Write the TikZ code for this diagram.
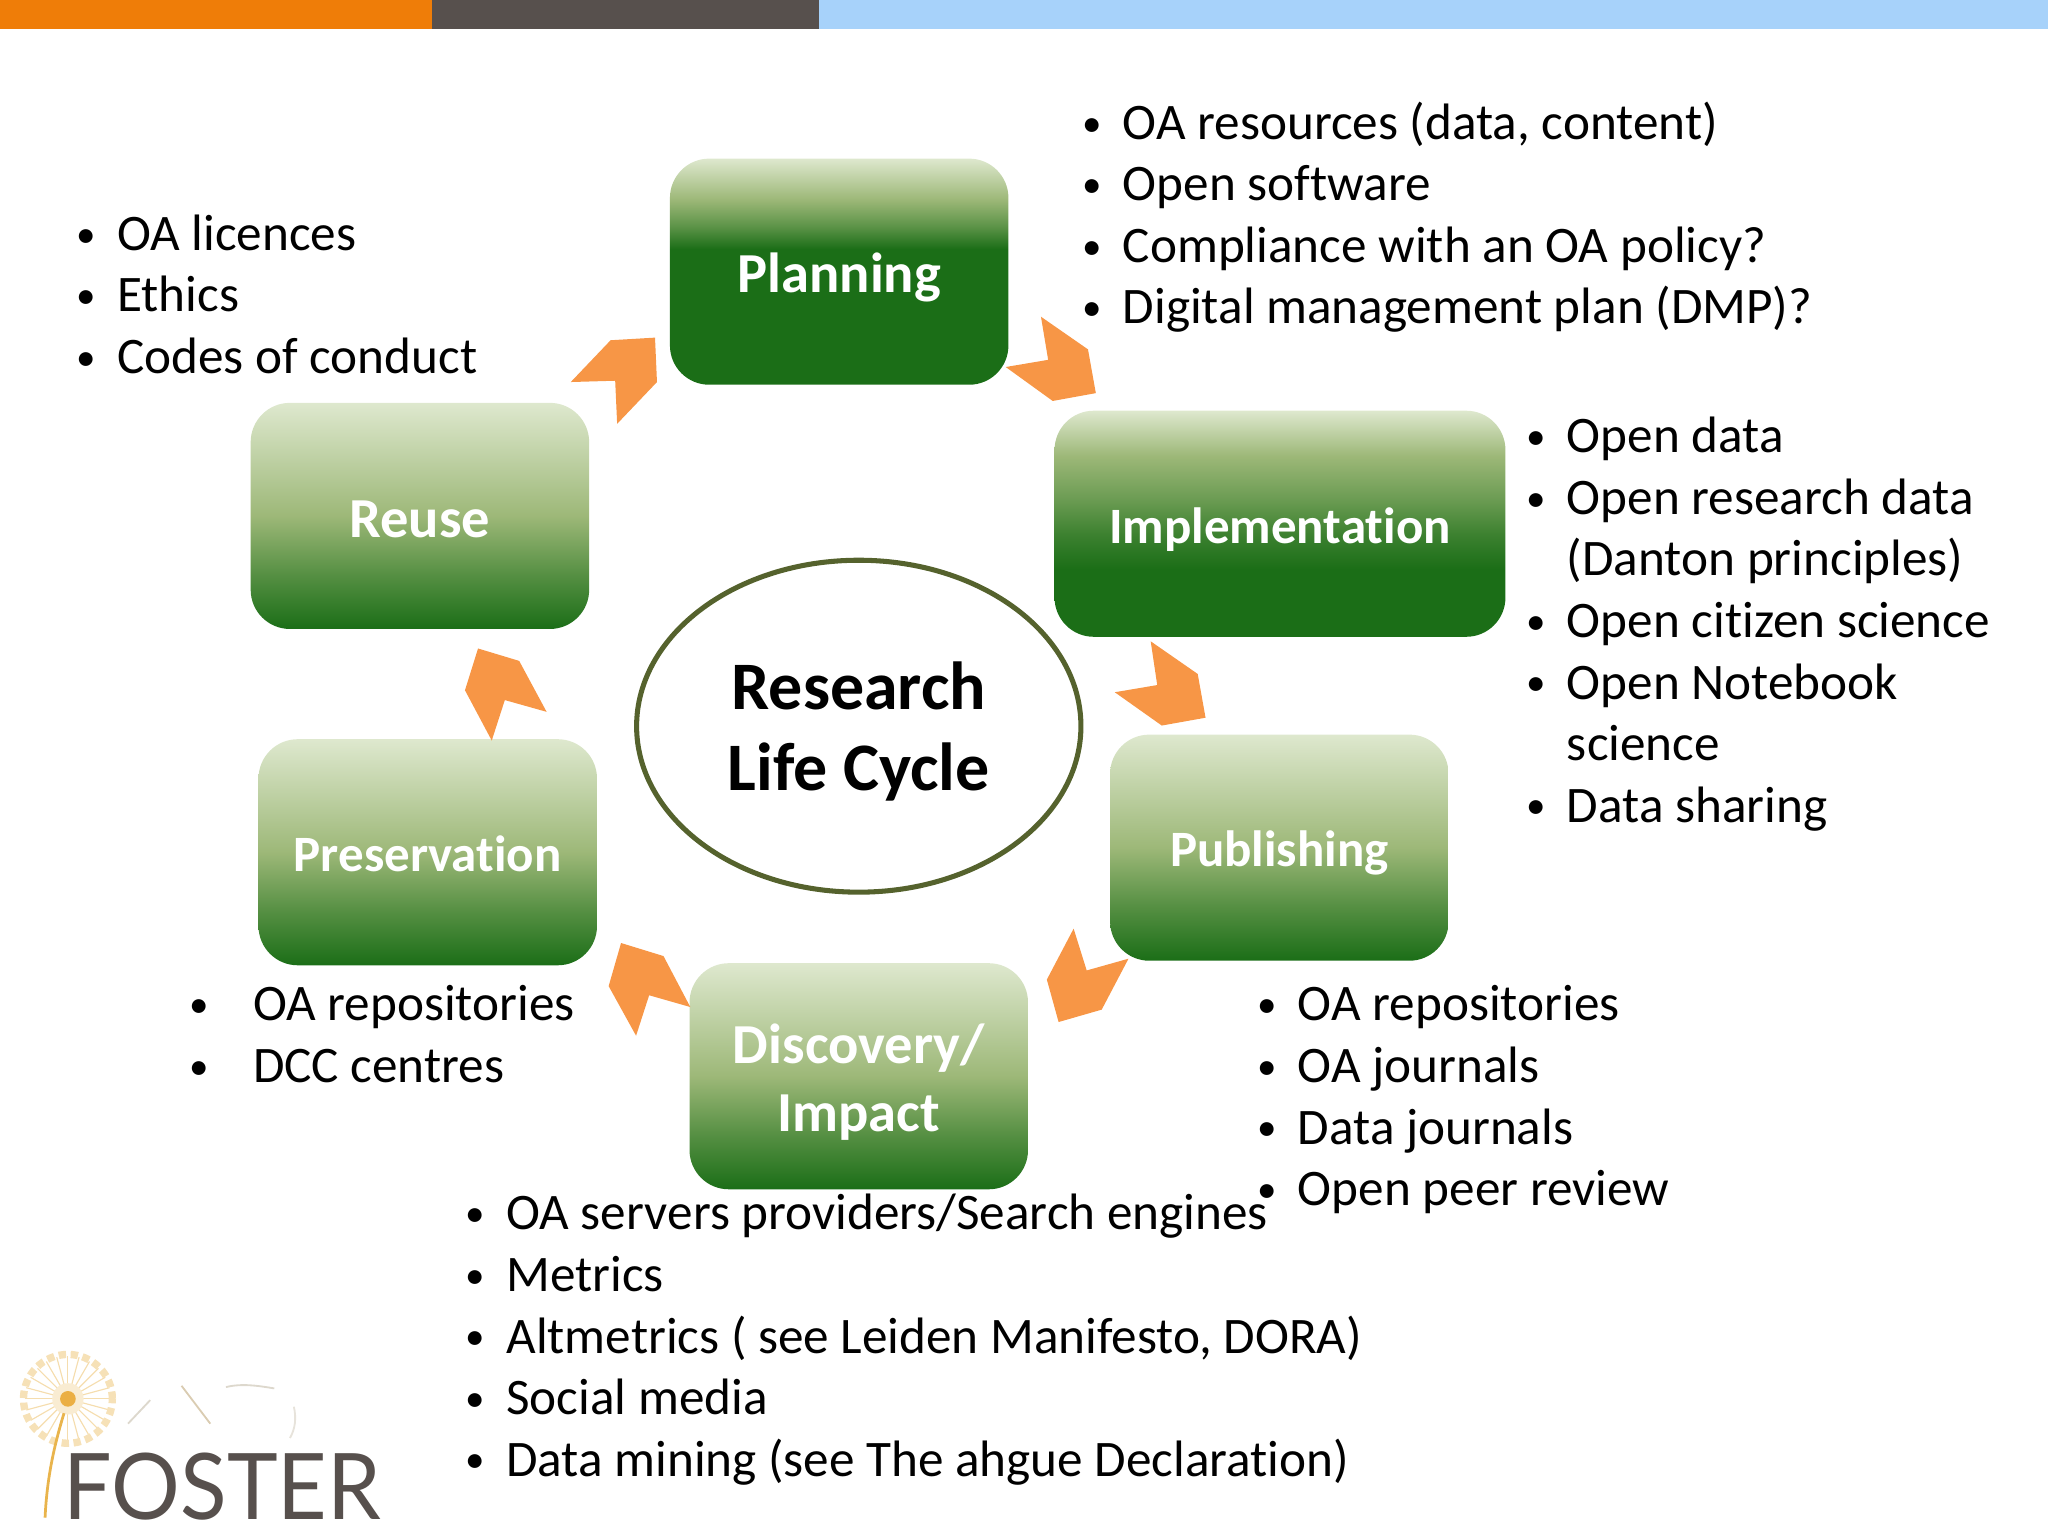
\documentclass[tikz,border=0pt]{standalone}
\usepackage{fontspec}
\setmainfont{Carlito}[Ligatures={TeX,CommonOff}]
\setsansfont{Lato}
\usetikzlibrary{shapes.geometric, positioning}
\definecolor{barorange}{HTML}{EF7D08}
\definecolor{bargrey}{HTML}{57504D}
\definecolor{barblue}{HTML}{A7D2FA}
\definecolor{chevorange}{HTML}{F79646}
\definecolor{ringgreen}{HTML}{55622D}
\definecolor{leaftop}{HTML}{DEE8CE}
\definecolor{leafmid}{HTML}{9DB878}
\definecolor{leafend}{HTML}{1B6E17}
\definecolor{seedgold}{HTML}{E9B44C}
\pgfdeclareverticalshading{fadeleaf}{100bp}{color(0bp)=(leafend); color(25bp)=(leafend); color(37bp)=(leafmid!45!leafend); color(50bp)=(leafmid); color(75bp)=(leaftop); color(100bp)=(leaftop)}
\pgfdeclareverticalshading{fadedark}{100bp}{color(0bp)=(leafend); color(55bp)=(leafend); color(60bp)=(leafmid!50!leafend); color(66bp)=(leafmid); color(75bp)=(leaftop); color(100bp)=(leaftop)}
\pgfdeclareverticalshading{fadeimpl}{100bp}{color(0bp)=(leafend); color(40bp)=(leafend); color(47.5bp)=(leafmid!25!leafend); color(55bp)=(leafmid!60!leafend); color(65bp)=(leafmid); color(75bp)=(leaftop); color(100bp)=(leaftop)}
\newcommand{\bl}[1][0.31cm]{\strut\makebox[#1][l]{\fontsize{8.5}{8.5}\selectfont\raisebox{0.7pt}{\textbullet}}}
\newcommand{\hg}{\strut\hspace*{0.31cm}}
\begin{document}
\begin{tikzpicture}[x=0.01cm, y=-0.01cm,
    stagebox/.style={rectangle, rounded corners=0.3cm, minimum width=2.59cm, minimum height=1.73cm, inner sep=0pt, align=center, text=white, text height=9.2pt, text depth=0pt, font=\fontsize{12.3}{14.8}\selectfont\bfseries, shading=fadeleaf},
    smallbox/.style={stagebox, text height=8.4pt, font=\fontsize{11.1}{14}\selectfont\bfseries},
    note/.style={anchor=north west, inner sep=0pt, align=left, font=\fontsize{11.15}{13.4}\selectfont},
    chev/.style={fill=chevorange}]
    \useasboundingbox (0,0) rectangle (1568,1176);
    \fill[barorange] (0,0) rectangle (331,22);
    \fill[bargrey] (331,0) rectangle (627,22);
    \fill[barblue] (627,0) rectangle (1568,22);

    \node[stagebox, shading=fadedark] (planning) at (642.5,208) {Planning};
    \node[smallbox, shading=fadeimpl, minimum width=3.45cm] (implementation) at (980,401) {Implementation};
    \node[smallbox] (publishing) at (979.5,649) {Publishing};
    \node[stagebox, text height=24pt] (discovery) at (657.5,824) {Discovery/\\Impact};
    \node[smallbox] (preservation) at (327.5,652.5) {Preservation};
    \node[stagebox] (reuse) at (321.5,395) {Reuse};
    \node[ellipse, draw=ringgreen, line width=1.1pt, minimum width=3.4cm, minimum height=2.54cm, inner sep=0pt, align=center, text depth=0pt, font=\fontsize{14.8}{17.8}\selectfont\bfseries] (cycle) at (657.5,556) {Research\\Life Cycle};

    \fill[chev] (797,242.5) -- (833,267.5) -- (839,301) -- (806,307) -- (770,281) -- (802.5,275.5) -- cycle;
    \fill[chev] (881,491) -- (917,516) -- (923,549.5) -- (889.5,555.5) -- (853.5,530) -- (886,524.5) -- cycle;
    \fill[chev] (822,711) -- (832,743) -- (864,734) -- (843.5,773) -- (810.5,782.5) -- (801.5,750) -- cycle;
    \fill[chev] (528.5,771) -- (497,762) -- (487,793) -- (466,755) -- (475.5,722) -- (508,732) -- cycle;
    \fill[chev] (376.5,567) -- (386.5,536) -- (418.5,545) -- (397.5,506) -- (366,496.5) -- (356,528.5) -- cycle;
    \fill[chev] (501.5,258.5) -- (503,292.5) -- (472.5,324.5) -- (471,291.5) -- (437,292.5) -- (467.5,260.5) -- cycle;

    \node[note] (planningnotes) at (828,73) {\bl OA resources (data, content)\\\bl Open software\\\bl Compliance with an OA policy?\\\bl Digital management plan (DMP)?};
    \node[note] (reusenotes) at (58,158) {\bl OA licences\\\bl Ethics\\\bl Codes of conduct};
    \node[note] (implementationnotes) at (1168,313) {\bl Open data\\\bl Open research data\\\hg (Danton principles)\\\bl Open citizen science\\\bl Open Notebook\\\hg science\\\bl Data sharing};
    \node[note] (publishingnotes) at (962,748) {\bl OA repositories\\\bl OA journals\\\bl Data journals\\\bl Open peer review};
    \node[note] (preservationnotes) at (144,748) {\bl[0.49cm]OA repositories\\\bl[0.49cm]DCC centres};
    \node[note] (discoverynotes) at (356,908) {\bl OA servers providers/Search engines\\\bl Metrics\\\bl Altmetrics ( see Leiden Manifesto, DORA)\\\bl Social media\\\bl Data mining (see The ahgue Declaration)};

    \foreach \a in {0,15,...,345}
        \draw[seedgold!45, line width=0.25pt] (52,1071) -- +(\a:0.33cm);
    \draw[seedgold!40, line width=1.6pt, densely dotted] (52,1071) circle (0.34cm);
    \fill[seedgold!25] (52,1071) circle (0.12cm);
    \fill[seedgold!90!orange] (52,1071) circle (0.06cm);
    \draw[seedgold, line width=0.6pt] (49,1082) .. controls (42,1105) and (36,1130) .. (34.5,1162);
    \draw[seedgold!30!gray!35, line width=0.4pt] (115,1072) -- (98,1090);
    \draw[seedgold!50!gray!50, line width=0.4pt] (139,1061) -- (161,1090);
    \draw[seedgold!30!gray!35, line width=0.4pt] (173,1062) .. controls (185,1059) and (198,1061) .. (210,1063);
    \draw[seedgold!30!gray!25, line width=0.4pt] (225,1077) .. controls (227,1086) and (226,1094) .. (222,1101);
    \node[anchor=base west, inner sep=0pt, text=bargrey, font=\sffamily\fontsize{20}{24}\selectfont] (fosterlogo) at (48,1163) {\scalebox{0.935}[1]{FOSTER}};
\end{tikzpicture}
\end{document}
